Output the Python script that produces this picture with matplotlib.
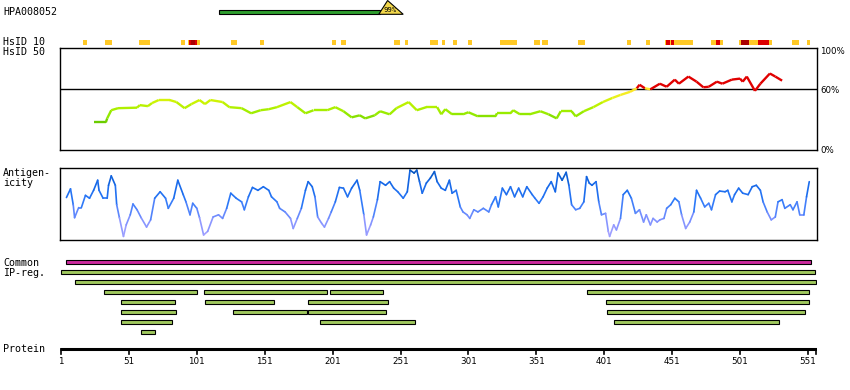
import matplotlib
matplotlib.use("Agg")
import matplotlib.pyplot as plt
import matplotlib.patches as patches
from matplotlib.collections import LineCollection
from matplotlib.colors import LinearSegmentedColormap
import numpy as np

W, H = 850, 390
XMIN, XMAX = 0.26, 557.7   # residue range of the panels

# antibody / antigen fragment
hpa_name = "HPA008052"
hpa_start, hpa_end = 117, 236
hpa_identity = "99%"
hpa_tri = (235, 241.5, 253)

# HsID 10 hits (residue start, end)
hsid10_orange = [(18, 20), (34, 38), (59, 63), (64, 66), (90, 92), (95, 103), (127, 130),
                 (148, 150), (201, 203), (208, 210), (247, 250), (255, 256), (273, 278),
                 (282, 283), (290, 292), (301, 303), (325, 330), (331, 336), (350, 353),
                 (356, 359), (382, 386), (418, 420), (432, 434), (446, 466), (480, 488),
                 (501, 524), (540, 544), (551, 552)]
hsid10_red = [(96, 101), (447, 449), (451, 452), (484, 486), (515, 522)]
hsid10_darkred = [(502, 507), (97, 99)]

# HsID 50 identity (%)
id50_pos = [25, 34, 35, 38, 43, 57, 59, 65, 68, 73, 81, 86, 92, 97, 103, 107, 111, 120, 125,
            134, 141, 148, 154, 160, 170, 175, 181, 187, 197, 203, 209, 215, 221, 225, 232,
            236, 243, 248, 257, 263, 270, 278, 281, 284, 289, 297, 301, 308, 321, 322, 332,
            334, 339, 346, 354, 360, 366, 369, 377, 380, 386, 393, 400, 407, 413, 420, 425,
            427, 431, 435, 442, 447, 453, 456, 463, 469, 474, 478, 484, 488, 495, 501, 503,
            506, 512, 516, 523, 527, 532]
id50_val = [27, 27, 31, 39, 41, 41.5, 44, 43, 46, 49, 49, 47, 41, 45, 49, 45, 49, 47, 42,
            41, 36, 39, 40, 42, 47, 42, 36, 39, 39, 42, 38, 32, 34, 31, 34,
            38, 35, 41, 47, 39, 42, 42, 35, 40, 35, 35, 37, 33, 33, 36, 36,
            39, 35, 35, 38, 35, 31, 38, 38, 33, 38, 42, 47, 51, 54, 57, 60.5,
            64, 60.5, 59.5, 65, 62, 69, 65, 72, 67, 61.5, 62, 67, 65, 69, 70, 67,
            72, 58, 65, 75, 72, 68]

# antigenicity profile
ant_pos = [5, 8, 10, 11, 14, 16, 19, 22, 25, 28, 29, 32, 35, 36, 38, 41, 42, 44, 47, 49,
           52, 54, 57, 60, 64, 67, 70, 74, 78, 80, 84, 87, 91, 93, 96, 98, 101, 103, 106,
           109, 113, 117, 120, 123, 126, 130, 134, 136, 139, 142, 146, 150, 154, 156, 160,
           162, 166, 170, 172, 175, 178, 181, 183, 186, 188, 190, 193, 195, 198, 200, 203,
           206, 209, 212, 215, 219, 221, 224, 226, 229, 231, 234, 236, 240, 243, 246, 249,
           253, 256, 258, 261, 263, 265, 267, 270, 273, 276, 278, 281, 284, 287, 289, 292,
           295, 297, 300, 302, 305, 308, 312, 316, 318, 321, 323, 326, 329, 332, 335, 338,
           341, 344, 348, 350, 353, 356, 359, 362, 365, 367, 370, 373, 375, 377, 380, 383,
           386, 388, 390, 392, 395, 397, 399, 402, 404, 405, 408, 410, 413, 415, 418, 421,
           424, 427, 430, 432, 435, 437, 440, 442, 445, 447, 450, 453, 456, 458, 461, 464,
           467, 469, 472, 475, 478, 480, 483, 486, 490, 492, 495, 497, 500, 503, 507, 510,
           513, 516, 518, 521, 524, 527, 529, 532, 534, 538, 540, 543, 545, 548, 550, 552]
ant_val = [59, 71, 49, 31, 45, 45, 62, 58, 69, 83, 69, 58, 58, 76, 89, 76, 49, 31, 5, 21,
           35, 50, 42, 31, 18, 28, 58, 67, 58, 44, 58, 83, 63, 53, 35, 51, 44, 31, 7,
           12, 32, 35, 30, 44, 65, 58, 53, 42, 60, 73, 69, 74, 69, 60, 53,
           44, 39, 30, 16, 30, 44, 69, 81, 74, 60, 32, 23, 18, 30, 39, 53,
           73, 72, 60, 72, 83, 69, 35, 7, 21, 32, 56, 81, 76, 81, 72, 67,
           58, 67, 97, 93, 97, 81, 65, 79, 86, 95, 81, 72, 69, 83, 65, 69,
           46, 39, 35, 30, 42, 39, 44, 39, 49, 60, 46, 72, 63, 74, 60, 72,
           60, 74, 63, 58, 51, 60, 72, 81, 67, 93, 83, 94, 76, 49, 42, 44,
           53, 88, 79, 76, 81, 53, 35, 37, 12, 5, 21, 14, 30, 63, 69, 58,
           37, 42, 25, 35, 21, 30, 25, 28, 30, 44, 49, 58, 53, 35, 16, 25,
           39, 69, 58, 46, 51, 42, 63, 68, 67, 69, 53, 63, 72, 65, 63, 74,
           76, 69, 53, 39, 28, 32, 53, 56, 44, 49, 42, 53, 35, 35, 60, 81]

# common / IP-reg regions, one list per row
common_region = (5, 553)
ipreg_rows = [
    [(1, 556)],
    [(11, 557)],
    [(33, 101), (106, 197), (199, 238), (388, 552)],
    [(45, 85), (107, 158), (183, 242), (402, 552)],
    [(45, 86), (128, 182), (183, 240), (403, 549)],
    [(45, 83), (192, 262), (408, 530)],
    [(60, 70)],
]
protein_ticks = [1, 51, 101, 151, 201, 251, 301, 351, 401, 451, 501, 551]

mono = "DejaVu Sans Mono"
fig = plt.figure(figsize=(W / 100, H / 100), dpi=100)


def fx(x):
    return x / W


def fy(y):
    return 1 - y / H


def label(x, y, s, **kw):
    fig.text(fx(x), fy(y), s, va="center", **kw)


# overlay axes in pixel rows for the simple tracks
ax = fig.add_axes([fx(60), 0, fx(817) - fx(60), 1])
ax.set_xlim(XMIN, XMAX)
ax.set_ylim(H, 0)
ax.axis("off")

# antigen fragment
ax.barh(12.3, hpa_end - hpa_start, left=hpa_start, height=4, color="#2E9E2E",
        edgecolor="black", linewidth=0.8, zorder=3)
tri = patches.Polygon([(hpa_tri[0], 14.3), (hpa_tri[1], 0.5), (hpa_tri[2], 14.3)],
                      closed=True, facecolor="#F2D74A", edgecolor="black", linewidth=0.8, zorder=4)
ax.add_patch(tri)
ax.text(hpa_tri[1] + 1.5, 10.5, hpa_identity, fontsize=5.2, ha="center", va="center",
        family=mono, zorder=5)

# HsID 10 hits
for segs, col in [(hsid10_orange, "#FFC926"), (hsid10_red, "#DD0000"), (hsid10_darkred, "#AA0000")]:
    for s, e in segs:
        ax.barh(42.5, e - s + 1, left=s - 0.5, height=5, color=col, linewidth=0)

# common + IP-reg bars
ax.barh(262, common_region[1] - common_region[0], left=common_region[0], height=4,
        color="#CC2A9E", edgecolor="black", linewidth=0.8)
for i, row in enumerate(ipreg_rows):
    for s, e in row:
        ax.barh(272 + 10 * i, e - s, left=s, height=4, color="#A0C95E",
                edgecolor="black", linewidth=0.8)

# protein axis
ax.plot([XMIN, XMAX], [349, 349], color="black", linewidth=2.2, solid_capstyle="butt")
for t in protein_ticks:
    ax.plot([t, t], [349, 353.5], color="black", linewidth=1.2)
    ax.text(t, 361, str(t), fontsize=6.3, ha="center", va="center")
ax.plot([XMAX - 0.6, XMAX - 0.6], [349, 353.5], color="black", linewidth=1.2)

# HsID 50 panel
ax1 = fig.add_axes([fx(60), fy(150), fx(817) - fx(60), (150 - 48) / H])
ax1.set_xlim(XMIN, XMAX)
ax1.set_ylim(0, 100)
ax1.set_xticks([])
ax1.set_yticks([])
for sp in ax1.spines.values():
    sp.set_linewidth(1.0)
ax1.axhline(60, color="black", linewidth=1.0)

cm50 = LinearSegmentedColormap.from_list("id50", [(0, "#3C9C00"), (0.45, "#6ACC00"),
                                                   (0.6, "#98EC00"), (0.78, "#C8F400"),
                                                   (0.9, "#F2F020"), (1.0, "#FFE428")])
pts = np.column_stack([id50_pos, id50_val])
segs = np.stack([pts[:-1], pts[1:]], axis=1)
cols = []
for a, b in zip(id50_val[:-1], id50_val[1:]):
    m = (a + b) / 2
    cols.append("#E00000" if m >= 60.4 else cm50(min(m, 60) / 60))
lc = LineCollection(segs, colors=cols, linewidths=1.7)
ax1.add_collection(lc)

# antigenicity panel
ax2 = fig.add_axes([fx(60), fy(240), fx(817) - fx(60), (240 - 168) / H])
ax2.set_xlim(XMIN, XMAX)
ax2.set_ylim(0, 100)
ax2.set_xticks([])
ax2.set_yticks([])
for sp in ax2.spines.values():
    sp.set_linewidth(1.0)

cm_ant = LinearSegmentedColormap.from_list("ant", [(0, "#B4A8FF"), (0.3, "#7C90FF"),
                                                   (0.55, "#2A78F8"), (0.8, "#1466E6"),
                                                   (1.0, "#0050B4")])
pts = np.column_stack([ant_pos, ant_val])
segs = np.stack([pts[:-1], pts[1:]], axis=1)
vals = [(a + b) / 2 for a, b in zip(ant_val[:-1], ant_val[1:])]
lc2 = LineCollection(segs, colors=[cm_ant(v / 100) for v in vals], linewidths=1.2,
                     capstyle="round", joinstyle="round")
ax2.add_collection(lc2)

# labels
label(3, 12, hpa_name, fontsize=7.2, family=mono)
label(3, 42, "HsID 10", fontsize=7.2, family=mono)
label(3, 52, "HsID 50", fontsize=7.2, family=mono)
label(3, 173, "Antigen-", fontsize=7.2, family=mono)
label(3, 183.5, "icity", fontsize=7.2, family=mono)
label(3, 262.5, "Common", fontsize=7.2, family=mono)
label(3, 273, "IP-reg.", fontsize=7.2, family=mono)
label(3, 349, "Protein", fontsize=7.2, family=mono)
label(820, 52, "100%", fontsize=6.2)
label(820, 90.5, "60%", fontsize=6.2)
label(820, 150.5, "0%", fontsize=6.2)

fig.savefig("out.png", dpi=100)
